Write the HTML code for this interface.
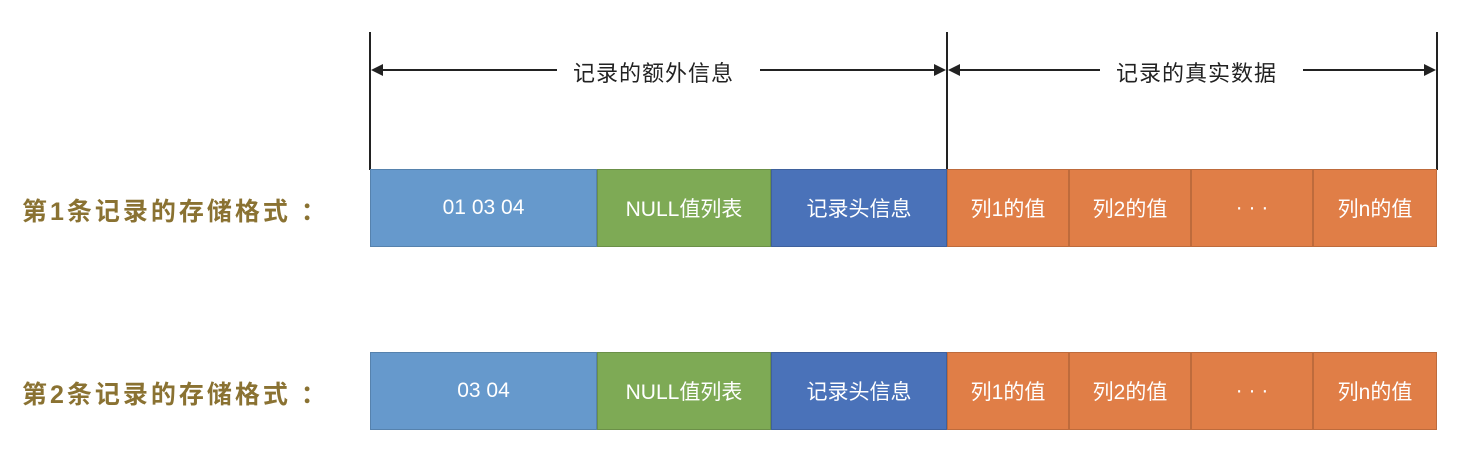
<!DOCTYPE html>
<html><head><meta charset="utf-8"><style>
body{margin:0;width:1472px;height:454px;background:#fff;position:relative;overflow:hidden;font-family:"Liberation Sans","Noto Sans CJK SC",sans-serif}
.b{position:absolute;height:78px;display:flex;align-items:center;justify-content:center;color:#fff;font-size:21px;box-sizing:border-box;border:1px solid rgba(0,0,0,0.15)}
.l{position:absolute;left:22px;font-size:25px;color:#8a7232;font-weight:bold;letter-spacing:3px;white-space:nowrap}
.t{position:absolute;top:56px;font-size:22px;color:#222;background:#fff;padding:0 4px;letter-spacing:1px;white-space:nowrap}
</style></head><body>
<svg width="1472" height="454" style="position:absolute;left:0;top:0">
<g stroke="#222" stroke-width="2">
<line x1="370" y1="32" x2="370" y2="170"/>
<line x1="947" y1="32" x2="947" y2="170"/>
<line x1="1437" y1="32" x2="1437" y2="170"/>
<line x1="380" y1="70" x2="557" y2="70"/>
<line x1="760" y1="70" x2="936" y2="70"/>
<line x1="958" y1="70" x2="1100" y2="70"/>
<line x1="1303" y1="70" x2="1426" y2="70"/>
</g>
<g fill="#222">
<polygon points="371,70 383,64 383,76"/>
<polygon points="946,70 934,64 934,76"/>
<polygon points="948,70 960,64 960,76"/>
<polygon points="1436,70 1424,64 1424,76"/>
</g>
</svg>
<div class="t" style="left:569px">记录的额外信息</div>
<div class="t" style="left:1112px">记录的真实数据</div>

<div class="l" style="top:192px">第1条记录的存储格式 ：</div>
<div class="b" style="left:370px;top:169px;width:227px;background:#6699cc">01 03 04</div>
<div class="b" style="left:597px;top:169px;width:174px;background:#7eaa55">NULL值列表</div>
<div class="b" style="left:771px;top:169px;width:176px;background:#4a72b9">记录头信息</div>
<div class="b" style="left:947px;top:169px;width:122px;background:#e07e47">列1的值</div>
<div class="b" style="left:1069px;top:169px;width:122px;background:#e07e47">列2的值</div>
<div class="b" style="left:1191px;top:169px;width:122px;background:#e07e47">· · ·</div>
<div class="b" style="left:1313px;top:169px;width:124px;background:#e07e47">列n的值</div>

<div class="l" style="top:375px">第2条记录的存储格式 ：</div>
<div class="b" style="left:370px;top:352px;width:227px;background:#6699cc">03 04</div>
<div class="b" style="left:597px;top:352px;width:174px;background:#7eaa55">NULL值列表</div>
<div class="b" style="left:771px;top:352px;width:176px;background:#4a72b9">记录头信息</div>
<div class="b" style="left:947px;top:352px;width:122px;background:#e07e47">列1的值</div>
<div class="b" style="left:1069px;top:352px;width:122px;background:#e07e47">列2的值</div>
<div class="b" style="left:1191px;top:352px;width:122px;background:#e07e47">· · ·</div>
<div class="b" style="left:1313px;top:352px;width:124px;background:#e07e47">列n的值</div>
</body></html>
